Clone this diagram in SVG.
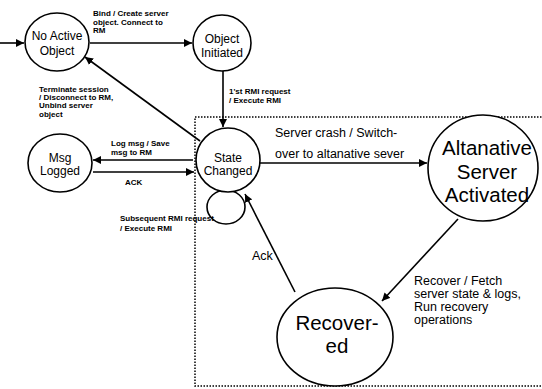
<svg xmlns="http://www.w3.org/2000/svg" width="542" height="389" viewBox="0 0 542 389">
  <style>
    .node { fill: #fff; stroke: #000; stroke-width: 1.6; }
    .edge { fill: none; stroke: #000; stroke-width: 1.6; }
    .frame { fill: none; stroke: #000; stroke-width: 1.5; stroke-dasharray: 1.5 1.5; }
    .name { font-family: "Liberation Sans", Arial, sans-serif; font-size: 12px; fill: #000; text-anchor: middle; }
    .big { font-family: "Liberation Sans", Arial, sans-serif; font-size: 20.5px; fill: #000; text-anchor: middle; }
    .note { font-family: "Liberation Sans", Arial, sans-serif; font-size: 8px; font-weight: bold; fill: #000; }
    .label { font-family: "Liberation Sans", Arial, sans-serif; font-size: 12.5px; fill: #000; }
  </style>
  <defs>
    <marker id="arrow" viewBox="0 0 10 10" refX="10" refY="5" markerWidth="5" markerHeight="5" orient="auto" markerUnits="strokeWidth">
      <path d="M0,0 L10,5 L0,10 Z" fill="#000"/>
    </marker>
  </defs>

  <!-- recovery region -->
  <rect class="frame" x="195" y="117" width="352" height="269"/>

  <g id="connectors">
    <line class="edge" x1="0" y1="43" x2="24" y2="43" marker-end="url(#arrow)"/>
    <line class="edge" x1="90" y1="43" x2="192" y2="43" marker-end="url(#arrow)"/>
    <line class="edge" x1="223" y1="71" x2="223" y2="127" marker-end="url(#arrow)"/>
    <line class="edge" x1="200" y1="141" x2="85" y2="57" marker-end="url(#arrow)"/>
    <line class="edge" x1="193" y1="160" x2="93" y2="160" marker-end="url(#arrow)"/>
    <line class="edge" x1="93" y1="172" x2="194" y2="172" marker-end="url(#arrow)"/>
    <ellipse class="edge" cx="226" cy="207" rx="19" ry="17"/>
    <line class="edge" x1="260" y1="163" x2="427" y2="163" marker-end="url(#arrow)"/>
    <line class="edge" x1="458" y1="219" x2="382" y2="301" marker-end="url(#arrow)"/>
    <line class="edge" x1="295" y1="292" x2="245" y2="194" marker-end="url(#arrow)"/>

    <text class="note" x="93" y="16">Bind / Create server</text>
    <text class="note" x="93" y="25">object. Connect to</text>
    <text class="note" x="93" y="33">RM</text>
    <text class="note" x="229" y="94">1'st RMI request</text>
    <text class="note" x="229" y="103">/ Execute RMI</text>
    <text class="note" x="39" y="92">Terminate session</text>
    <text class="note" x="39" y="100">/ Disconnect to RM,</text>
    <text class="note" x="39" y="108">Unbind server</text>
    <text class="note" x="39" y="117">object</text>
    <text class="note" x="111" y="146">Log msg / Save</text>
    <text class="note" x="111" y="155">msg to RM</text>
    <text class="note" x="125" y="185">ACK</text>
    <text class="note" x="120" y="221">Subsequent RMI request</text>
    <text class="note" x="120" y="231">/ Execute RMI</text>
    <text class="label" x="275" y="137" font-size="13.5">Server crash / Switch-</text>
    <text class="label" x="275" y="158" font-size="13.5">over to altanative sever</text>
    <text class="label" x="252" y="260" font-size="14">Ack</text>
    <text class="label" x="414" y="285">Recover / Fetch</text>
    <text class="label" x="414" y="298">server state &amp; logs,</text>
    <text class="label" x="414" y="311">Run recovery</text>
    <text class="label" x="414" y="324">operations</text>
  </g>

  <g id="no-active-object">
    <ellipse class="node" cx="57" cy="42" rx="32" ry="29"/>
    <text class="name" x="57" y="40">No Active</text>
    <text class="name" x="57" y="55">Object</text>
  </g>

  <g id="object-initiated">
    <ellipse class="node" cx="222" cy="43" rx="29" ry="28"/>
    <text class="name" x="222" y="43">Object</text>
    <text class="name" x="222" y="57">Initiated</text>
  </g>

  <g id="state-changed">
    <ellipse class="node" cx="228" cy="160" rx="32" ry="32"/>
    <text class="name" x="228" y="162">State</text>
    <text class="name" x="228" y="175">Changed</text>
  </g>

  <g id="msg-logged">
    <ellipse class="node" cx="60" cy="163" rx="32" ry="29"/>
    <text class="name" x="60" y="162">Msg</text>
    <text class="name" x="60" y="175">Logged</text>
  </g>

  <g id="alternative-server-activated">
    <ellipse class="node" cx="483" cy="168" rx="55" ry="53"/>
    <text class="big" x="487" y="155">Altanative</text>
    <text class="big" x="487" y="179">Server</text>
    <text class="big" x="487" y="202">Activated</text>
  </g>

  <g id="recovered">
    <ellipse class="node" cx="335" cy="337" rx="58" ry="49"/>
    <text class="big" x="337" y="330" font-size="22">Recover-</text>
    <text class="big" x="337" y="353" font-size="22">ed</text>
  </g>
</svg>
